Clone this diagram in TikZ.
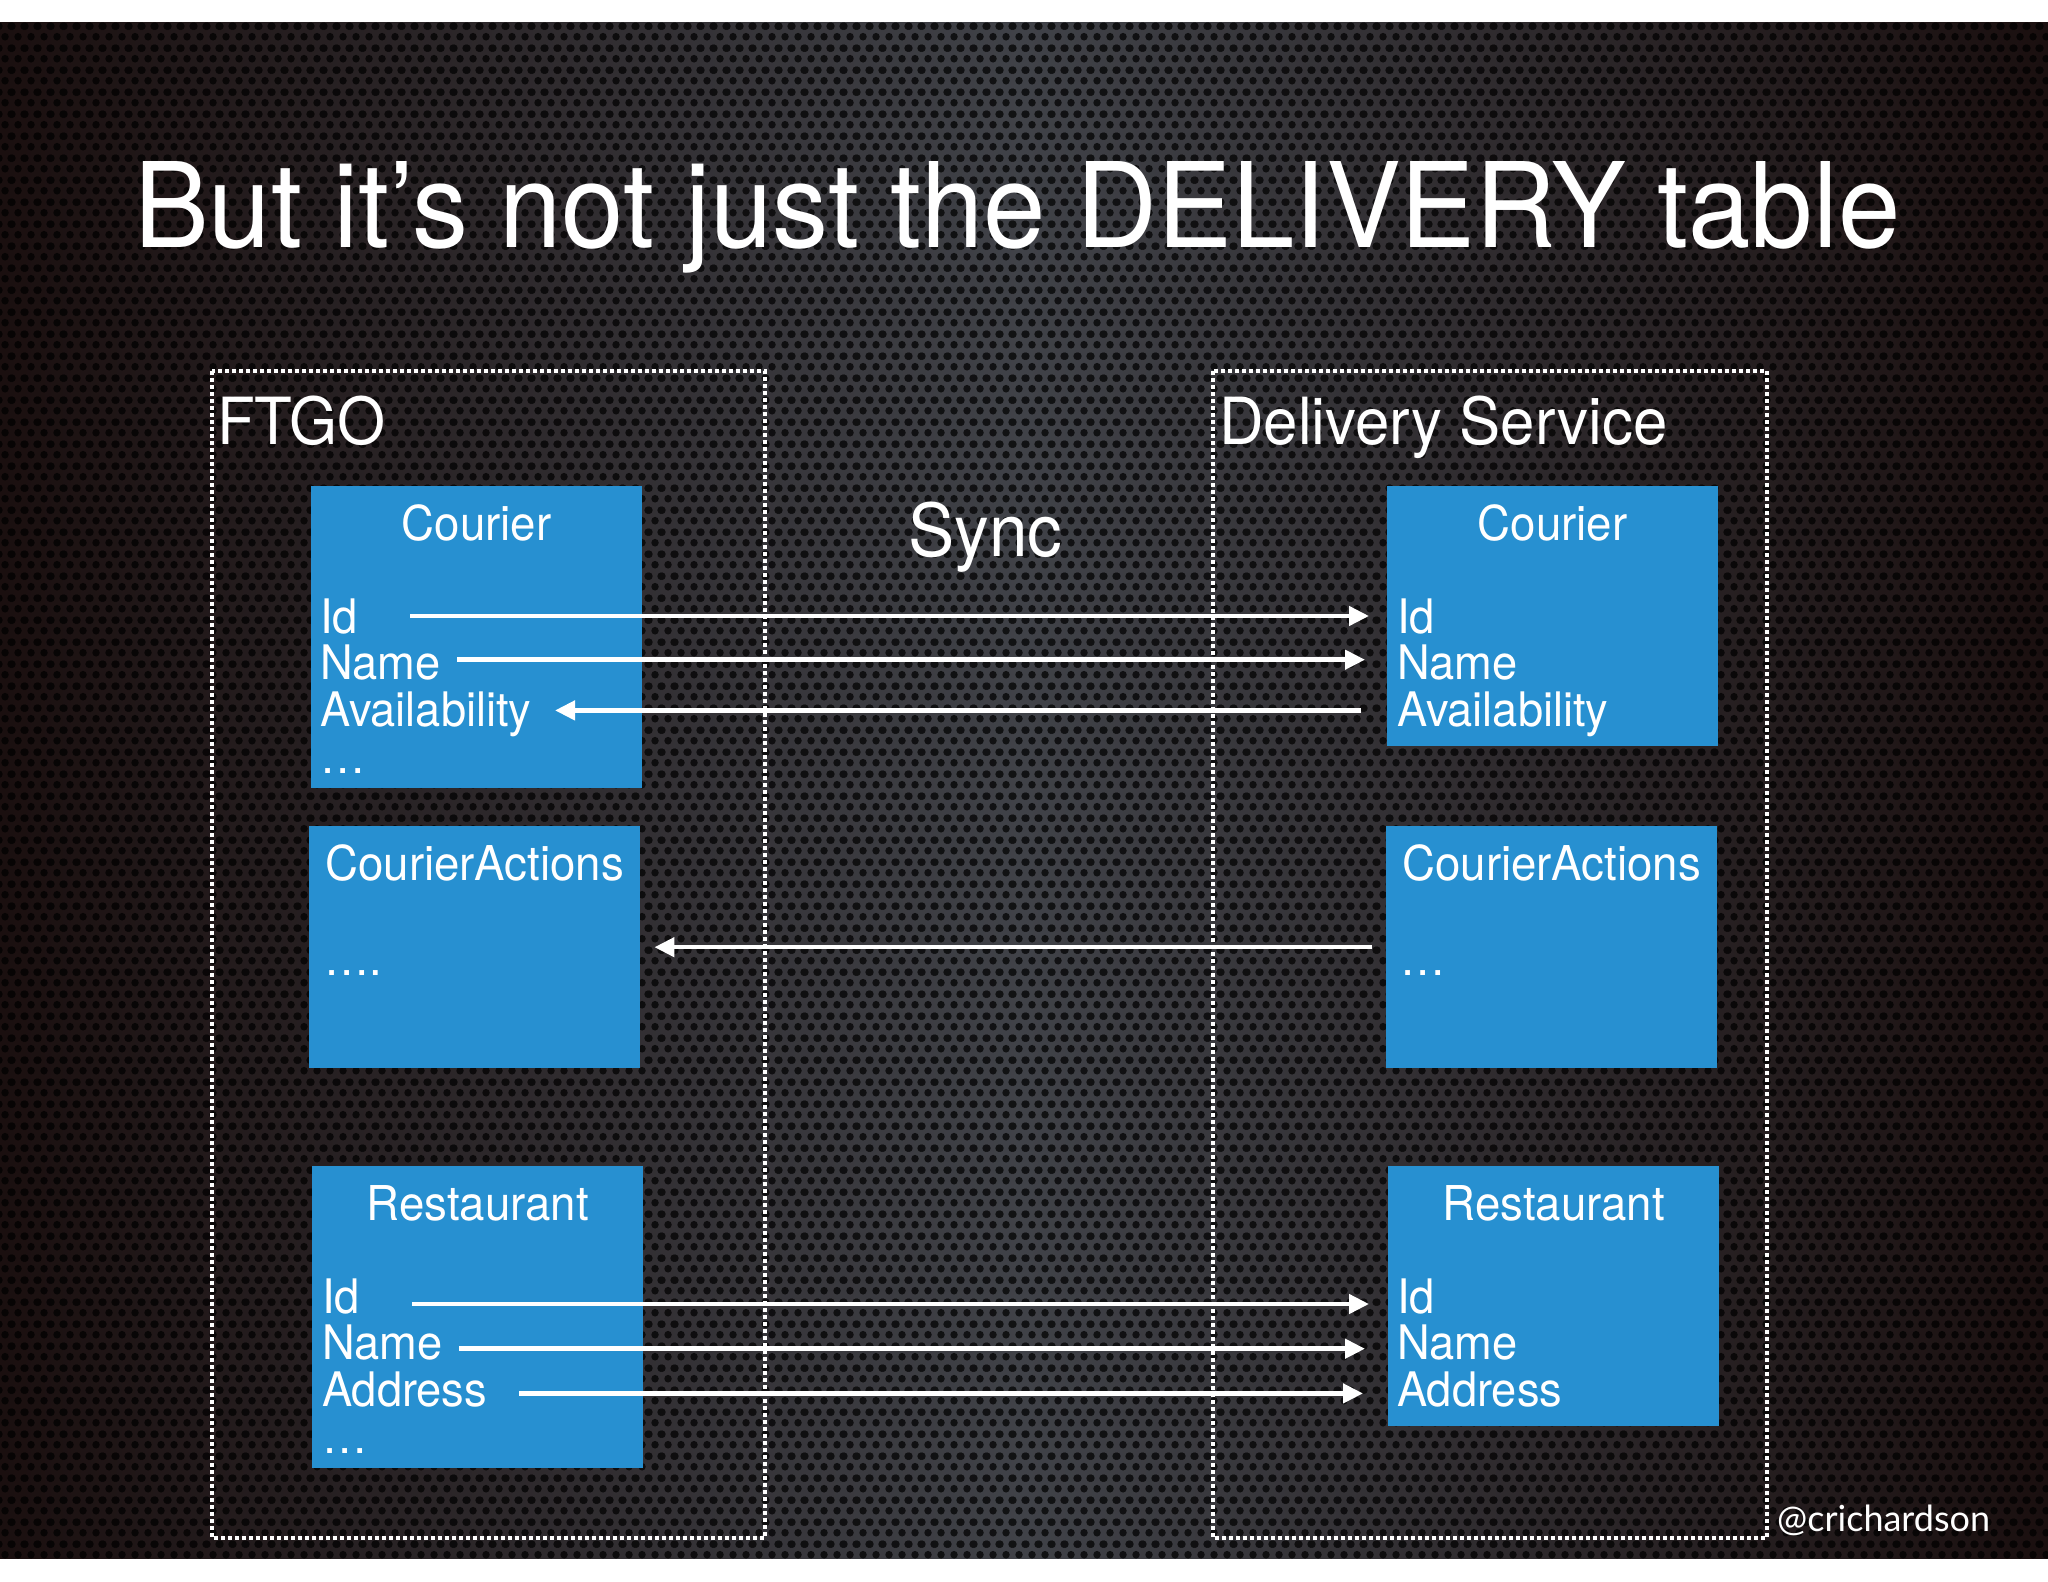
\documentclass[tikz,border=0pt]{standalone}
\usepackage{fontspec}
\setmainfont{TeX Gyre Heros}[FakeStretch=0.95]
\newfontfamily\handlefont{Lato}
\usetikzlibrary{arrows.meta,patterns.meta}

\definecolor{tableblue}{RGB}{39,144,209}
\definecolor{slateedge}{RGB}{26,15,15}
\definecolor{slatemid}{RGB}{64,66,72}

\tikzdeclarepattern{
  name=holes,
  type=uncolored,
  bounding box={(0pt,0pt) and (13pt,22pt)},
  tile size={(13pt,22pt)},
  code={
    \fill (6.5pt,5.5pt) circle (4pt);
    \fill (0pt,16.5pt) circle (4pt);
    \fill (13pt,16.5pt) circle (4pt);
  }
}

\tikzset{
  slidetext/.style={text=white, anchor=base west, inner sep=0pt},
  service/.style={draw=white, line width=3.5pt, dash pattern=on 4pt off 3pt},
  tablebox/.style={fill=tableblue, draw=none, anchor=north west, inner sep=0pt, minimum width=331pt},
  tabletitle/.style={text=white, anchor=base, inner sep=0pt, font=\fontsize{48}{48}\selectfont},
  field/.style={text=white, anchor=base west, inner sep=0pt, font=\fontsize{47.6}{47.6}\selectfont},
  sync/.style={draw=white, line width=4.5pt, -{Triangle[length=20pt,width=19pt]}},
}

\begin{document}
\begin{tikzpicture}[x=1pt,y=-1pt]
\useasboundingbox (0,0) rectangle (2048,1582);
\fill[white] (0,0) rectangle (2048,1582);
% slide background
\shade[left color=slateedge, right color=slateedge, middle color=slatemid] (0,22) rectangle (2048,1558);
\path[pattern=holes, pattern color=black, opacity=.72] (0,22) rectangle (2048,1558);

% title
\node[slidetext, font=\fontsize{118}{118}\selectfont] (title) at (134,247) {But it’s not just the DELIVERY table};

% the two services
\draw[service] (212,371) rectangle (765,1538);
\draw[service] (1213,371) rectangle (1767,1538);
\node[slidetext, font=\fontsize{65}{65}\selectfont] (ftgo) at (217,444) {FTGO};
\node[slidetext, font=\fontsize{65}{65}\selectfont] (delivery) at (1219,444) {Delivery Service};
\node[slidetext, font=\fontsize{73}{73}\selectfont] (sync) at (908,556) {Sync};

% FTGO tables
\node[tablebox, minimum height=302pt] (lcourier) at (311,486) {};
\node[tablebox, minimum height=242pt] (lactions) at (309,826) {};
\node[tablebox, minimum height=302pt] (lrestaurant) at (312,1166) {};

% Delivery Service tables
\node[tablebox, minimum height=260pt] (rcourier) at (1387,486) {};
\node[tablebox, minimum height=242pt] (ractions) at (1386,826) {};
\node[tablebox, minimum height=260pt] (rrestaurant) at (1388,1166) {};

% table names
\foreach \t/\n in {lcourier/Courier,rcourier/Courier,lactions/CourierActions,ractions/CourierActions,lrestaurant/Restaurant,rrestaurant/Restaurant}
    \node[tabletitle] (\t-name) at ([yshift=-54pt]\t.north) {\n};

% columns
\foreach \f [count=\k] in {Id,Name,Availability,\dots}
    \node[field] (lc\k) at ([xshift=9pt,yshift={-147pt-46.7pt*(\k-1)}]lcourier.north west) {\f};
\foreach \f [count=\k] in {Id,Name,Availability}
    \node[field] (rc\k) at ([xshift=10pt,yshift={-147pt-46.7pt*(\k-1)}]rcourier.north west) {\f};
\foreach \f [count=\k] in {Id,Name,Address,\dots}
    \node[field] (lr\k) at ([xshift=10pt,yshift={-147pt-46.7pt*(\k-1)}]lrestaurant.north west) {\f};
\foreach \f [count=\k] in {Id,Name,Address}
    \node[field] (rr\k) at ([xshift=9pt,yshift={-147pt-46.7pt*(\k-1)}]rrestaurant.north west) {\f};
\node[field] (la1) at ([xshift=15pt,yshift=-149pt]lactions.north west) {\dots.};
\node[field] (ra1) at ([xshift=14pt,yshift=-149pt]ractions.north west) {\dots};

% sync arrows
\draw[sync] ([shift={(90pt,17pt)}]lc1.base west) -- ([shift={(-28pt,17pt)}]rc1.base west);
\draw[sync] ([shift={(137pt,20pt)}]lc2.base west) -- ([shift={(-32pt,20pt)}]rc2.base west);
\draw[sync] ([shift={(-36pt,16pt)}]rc3.base west) -- ([shift={(235pt,16pt)}]lc3.base west);
\draw[sync] ([xshift=-14pt]ractions.west) -- ([xshift=14pt]lactions.east);
\draw[sync] ([shift={(90pt,9pt)}]lr1.base west) -- ([shift={(-28pt,9pt)}]rr1.base west);
\draw[sync] ([shift={(137pt,11pt)}]lr2.base west) -- ([shift={(-32pt,11pt)}]rr2.base west);
\draw[sync] ([shift={(197pt,13pt)}]lr3.base west) -- ([shift={(-34pt,13pt)}]rr3.base west);

\node[slidetext, font=\handlefont\fontsize{36}{36}\selectfont] (handle) at (1777,1531) {@crichardson};
\end{tikzpicture}
\end{document}
